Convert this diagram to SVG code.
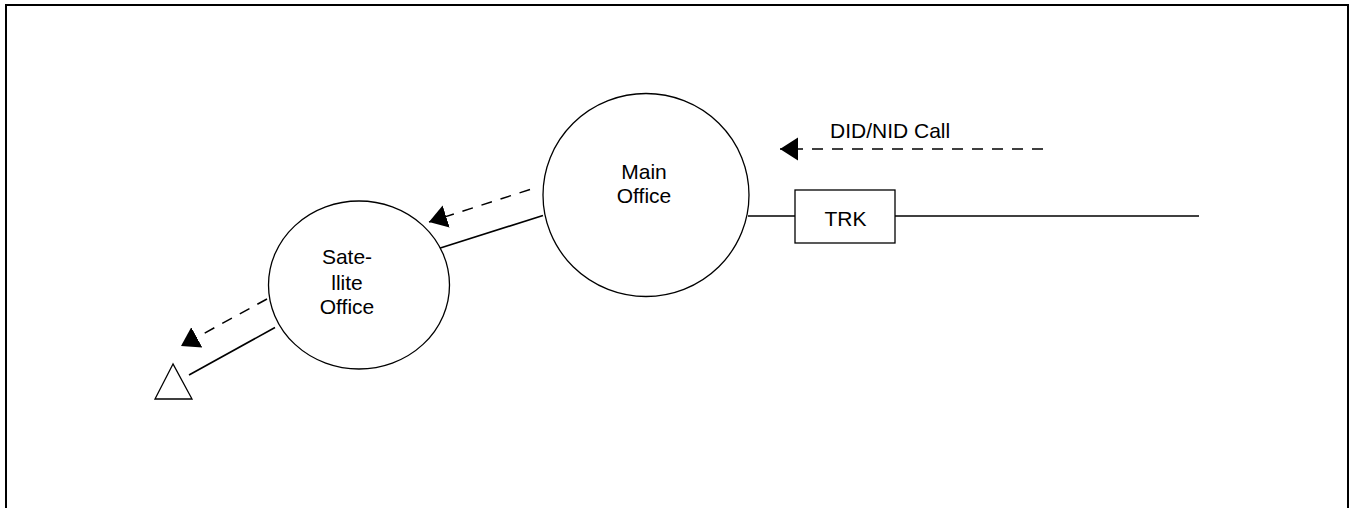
<svg xmlns="http://www.w3.org/2000/svg" width="1350" height="508" viewBox="0 0 1350 508">
  <style>
    .node { fill: #ffffff; stroke: #000000; stroke-width: 1.3; }
    .label { font-family: "Liberation Sans", Arial, sans-serif; font-size: 21px; fill: #000000; }
    .mid { text-anchor: middle; }
    .wire { fill: none; stroke: #000000; stroke-width: 1.6; }
    .flow { fill: none; stroke: #000000; stroke-width: 1.5; stroke-dasharray: 11 9; }
  </style>
  <defs>
    <marker id="arrow" markerUnits="userSpaceOnUse" markerWidth="20" markerHeight="26" viewBox="0 -13 20 26" refX="18" refY="0" orient="auto">
      <path d="M0,-11.5 L18,0 L0,11.5 z" fill="#000000"/>
    </marker>
  </defs>

  <rect width="1350" height="508" fill="#ffffff"/>
  <!-- outer frame, open at the bottom -->
  <path d="M6,510 V5 H1348 V510" fill="none" stroke="#000000" stroke-width="2"/>

  <g id="connectors">
    <!-- trunk line -->
    <line class="wire" x1="748" y1="216" x2="795" y2="216"/>
    <line class="wire" x1="895" y1="216" x2="1199" y2="216"/>
    <!-- main to satellite -->
    <line class="wire" x1="543" y1="215.5" x2="434" y2="250"/>
    <!-- satellite to terminal -->
    <line class="wire" x1="275" y1="327.5" x2="189" y2="375"/>
    <!-- call flow -->
    <line class="flow" x1="1043" y1="149" x2="780" y2="149" marker-end="url(#arrow)"/>
    <line class="flow" x1="530" y1="189.5" x2="429" y2="222" marker-end="url(#arrow)"/>
    <line class="flow" x1="267" y1="299" x2="181" y2="346" marker-end="url(#arrow)"/>
    <text class="label" x="830" y="138">DID/NID Call</text>
  </g>

  <g id="main-office">
    <ellipse class="node" cx="646" cy="195" rx="103" ry="101.5"/>
    <text class="label mid" x="644" y="179">Main</text>
    <text class="label mid" x="644" y="203">Office</text>
  </g>

  <g id="satellite-office">
    <ellipse class="node" cx="359" cy="285" rx="90.5" ry="84"/>
    <text class="label mid" x="347" y="264">Sate-</text>
    <text class="label mid" x="347" y="290">llite</text>
    <text class="label mid" x="347" y="314">Office</text>
  </g>

  <g id="trk">
    <rect class="node" x="795" y="190" width="100" height="53" stroke-width="1.6"/>
    <text class="label mid" x="845.5" y="226">TRK</text>
  </g>

  <g id="terminal">
    <polygon class="node" points="173,364 155,399 192,399"/>
  </g>
</svg>
